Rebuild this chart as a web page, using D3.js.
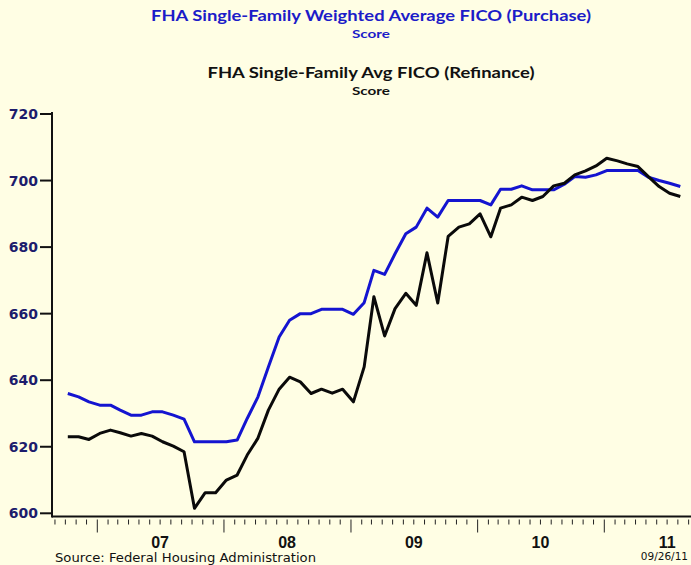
<!DOCTYPE html>
<html>
<head>
<meta charset="utf-8">
<script src="https://cdn.jsdelivr.net/npm/d3@7"></script>
<style>
  body { margin: 0; background: #fffee4; }
  svg { display: block; }
</style>
</head>
<body>
<div id="vis-container"></div>
<script>
// monthly FHA average FICO, Oct 2006 .. Aug 2011
const firstMonth = new Date(2006, 9, 1);
const purchase = [
  636, 635, 633.5, 632.5, 632.5, 631, 629.5, 629.5, 630.5, 630.5,
  629.5, 628.3, 621.5, 621.5, 621.5, 621.5, 622, 628.5, 635, 644,
  653, 658, 660, 660, 661.3, 661.3, 661.3, 659.8, 663.3, 673,
  671.8, 678, 684, 686, 691.7, 689, 694, 694, 694, 694,
  692.7, 697.4, 697.4, 698.4, 697.2, 697.2, 697.2, 698.9, 701.2, 701,
  701.7, 703, 703, 703, 703, 701, 700, 699.2, 698.2
];
const refinance = [
  623, 623, 622.2, 624, 625, 624.2, 623.2, 624, 623.2, 621.5,
  620.2, 618.5, 601.5, 606.2, 606.2, 610, 611.5, 617.5, 622.6, 631,
  637.3, 640.9, 639.5, 636, 637.3, 636.1, 637.3, 633.5, 644, 665.1,
  653.3, 661.5, 666.1, 662.5, 678.3, 663.2, 683.2, 686, 687, 690,
  683.1, 691.7, 692.7, 695, 694, 695.2, 698.4, 699.2, 701.7, 702.9,
  704.4, 706.7, 705.9, 705, 704.2, 701.2, 698.2, 696.2, 695.2
];
const yTicks = [600, 620, 640, 660, 680, 700, 720];
const years = [2007, 2008, 2009, 2010, 2011];
const yearLabels = ["07", "08", "09", "10", "11"];

const width = 691, height = 565;
const left = 52, right = 691, axisY = 516.5;

const months = d3.range(purchase.length).map(i => d3.timeDay.offset(d3.timeMonth.offset(firstMonth, i), 7));

const x = d3.scaleTime()
    .domain([new Date(2007, 0, 1), new Date(2011, 0, 1)])
    .range([97.3, 604.3]);
const y = d3.scaleLinear()
    .domain([600, 720])
    .range([513.3, 114]);

const svg = d3.select("#vis-container")
    .append("svg")
    .attr("width", width)
    .attr("height", height);

svg.append("rect")
    .attr("width", width)
    .attr("height", height)
    .attr("fill", "#fffee4");

// titles
const titles = [
  {text: "FHA Single-Family Weighted Average FICO (Purchase)", y: 21, size: 15, color: "#1c1cc8", len: 440},
  {text: "Score", y: 38, size: 11, color: "#1c1cc8", len: 38},
  {text: "FHA Single-Family Avg FICO (Refinance)", y: 78, size: 15, color: "#111", len: 327},
  {text: "Score", y: 95, size: 11, color: "#111", len: 38}
];
svg.selectAll(".title")
    .data(titles)
    .enter().append("text")
    .attr("class", "title")
    .attr("x", 371)
    .attr("y", d => d.y)
    .attr("text-anchor", "middle")
    .attr("font-family", "Lato, 'Open Sans', sans-serif")
    .attr("font-weight", "bold")
    .attr("font-size", d => d.size)
    .attr("fill", d => d.color)
    .attr("textLength", d => d.len)
    .attr("lengthAdjust", "spacingAndGlyphs")
    .text(d => d.text);

// y axis
svg.append("line")
    .attr("x1", left).attr("x2", left)
    .attr("y1", 112).attr("y2", axisY + 1)
    .attr("stroke", "#111").attr("stroke-width", 2);

svg.selectAll(".ytick")
    .data(yTicks)
    .enter().append("line")
    .attr("x1", 40).attr("x2", left)
    .attr("y1", d => y(d)).attr("y2", d => y(d))
    .attr("stroke", "#111").attr("stroke-width", 2);

svg.selectAll(".ylabel")
    .data(yTicks)
    .enter().append("text")
    .attr("x", 38)
    .attr("y", d => y(d) + 5)
    .attr("text-anchor", "end")
    .attr("font-family", "'DejaVu Sans', sans-serif")
    .attr("font-weight", "bold")
    .attr("font-size", 14)
    .attr("fill", "#1c1c6c")
    .text(d => d);

// x axis
svg.append("line")
    .attr("x1", left).attr("x2", right)
    .attr("y1", axisY).attr("y2", axisY)
    .attr("stroke", "#111").attr("stroke-width", 2);

const monthTicks = d3.timeMonth.range(x.invert(left + 1), x.invert(right));
svg.selectAll(".xtick")
    .data(monthTicks)
    .enter().append("line")
    .attr("x1", d => x(d)).attr("x2", d => x(d))
    .attr("y1", axisY + 3)
    .attr("y2", d => d.getMonth() === 0 ? axisY + 16 : axisY + 8)
    .attr("stroke", "#222").attr("stroke-width", 1);

svg.selectAll(".xlabel")
    .data(years)
    .enter().append("text")
    .attr("x", d => Math.min(x(new Date(d, 6, 1)), 678))
    .attr("y", 548)
    .attr("text-anchor", "middle")
    .attr("font-family", "'Liberation Sans', Arial, sans-serif")
    .attr("font-weight", "bold")
    .attr("font-size", 16)
    .attr("fill", "#111")
    .text((d, i) => yearLabels[i]);

svg.append("text")
    .attr("x", 55).attr("y", 562)
    .attr("font-family", "'DejaVu Sans', sans-serif")
    .attr("font-size", 12)
    .attr("fill", "#111")
    .attr("textLength", 261)
    .attr("lengthAdjust", "spacingAndGlyphs")
    .text("Source:  Federal Housing Administration");

svg.append("text")
    .attr("x", 688).attr("y", 560)
    .attr("text-anchor", "end")
    .attr("font-family", "'DejaVu Sans', sans-serif")
    .attr("font-size", 10.5)
    .attr("fill", "#111")
    .text("09/26/11");

// lines
const line = d3.line()
    .x((d, i) => x(months[i]))
    .y(d => y(d));

svg.append("path")
    .datum(purchase)
    .attr("fill", "none")
    .attr("stroke", "#1414d0")
    .attr("stroke-width", 3)
    .attr("stroke-linejoin", "round")
    .attr("d", line);

svg.append("path")
    .datum(refinance)
    .attr("fill", "none")
    .attr("stroke", "#0a0a0a")
    .attr("stroke-width", 3)
    .attr("stroke-linejoin", "round")
    .attr("d", line);
</script>
</body>
</html>
